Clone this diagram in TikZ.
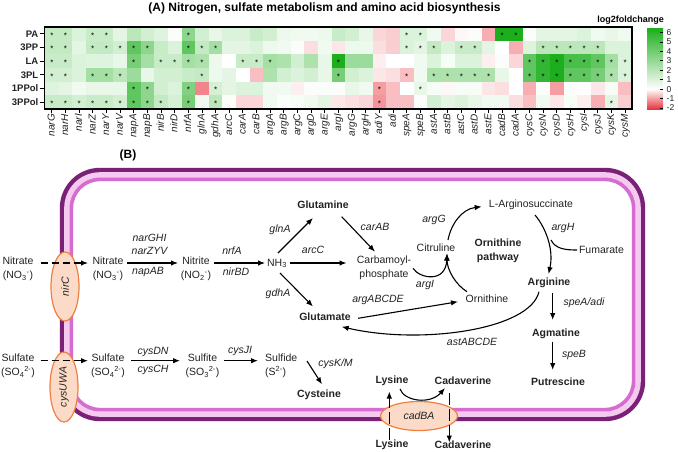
\documentclass[tikz,border=0pt]{standalone}
\usepackage{fontspec}
\setmainfont{Liberation Sans}
\usetikzlibrary{arrows.meta,shapes.geometric,calc}
\definecolor{hgreen}{RGB}{28,174,28}
\definecolor{hred}{RGB}{232,52,62}
\definecolor{tcol}{RGB}{35,35,35}
\definecolor{mdark}{RGB}{122,32,118}
\definecolor{mpink}{RGB}{214,108,208}
\definecolor{mlight}{RGB}{245,202,240}
\definecolor{tfill}{RGB}{251,219,199}
\definecolor{tdraw}{RGB}{239,128,66}
\newcommand\hmrow[2]{%
\foreach \v/\s [count=\c] in {#2} {
  \pgfmathsetmacro\xx{45+(\c-1)*13.65}
  \pgfmathsetmacro\yy{27+(#1-1)*13.667}
  \pgfmathsetmacro\pp{\v<0 ? min(100,-\v*40) : min(100,\v*20)}
  \ifdim\v pt<0pt \def\cc{hred}\else\def\cc{hgreen}\fi
  \fill[\cc!\pp!white] (\xx,\yy) rectangle ++(13.95,13.95);
  \ifnum\s=1 \node[starm] (s#1-\c) at (\xx+6.825,\yy+8.3) {*};\fi
}}
\begin{document}
\begin{tikzpicture}[x=1pt,y=-1pt,
 txt/.style={font=\fontsize{10.5}{14}\selectfont, text=tcol, inner sep=0pt, align=center},
 btxt/.style={txt, font=\fontsize{10.5}{14}\selectfont\bfseries},
 gene/.style={txt, font=\fontsize{10.5}{14}\selectfont\itshape},
 arr/.style={draw=black, line width=1.1pt, -{Latex[length=7pt,width=5.5pt]}},
 darr/.style={arr, dash pattern=on 7pt off 4pt},
 vdarr/.style={arr, dash pattern=on 12pt off 4pt},
 trans/.style={ellipse, fill=tfill, draw=tdraw, line width=1.2pt, inner sep=0pt, font=\fontsize{10.5}{14}\selectfont\itshape, text=tcol},
 starm/.style={font=\fontsize{8}{8}\selectfont, inner sep=0pt, text=black},
 clab/.style={font=\fontsize{10}{12}\selectfont\itshape, text=tcol, inner sep=0pt, text height=7.5pt, text depth=2pt, rotate=90, anchor=east},
 rlab/.style={font=\fontsize{9.5}{12}\selectfont\bfseries, text=tcol, inner sep=0pt, anchor=east},
 ttl/.style={font=\fontsize{12}{14}\selectfont\bfseries, text=black, inner sep=0pt}
]
\useasboundingbox (0,0) rectangle (678,451);
\fill[white] (0,0) rectangle (678,451);
% ---------- (A) heatmap ----------
\node[ttl] (titleA) at (324.5,8) {(A) Nitrogen, sulfate metabolism and amino acid biosynthesis};
\hmrow{1}{1.3/1, 1.3/1, 0.8/0, 1.2/1, 1.2/1, 0.6/0, 1.5/0, 1.0/0, 0.7/0, 0.1/0, 2.5/1, 1.0/0, 0.5/0, 0.8/0, 0.8/0, 1.2/0, 1.0/0, 0.4/0, 0.3/0, 0.3/0, 0.4/0, 1.2/0, 1.0/0, 0.5/0, -0.5/0, -0.6/0, 0.8/1, 0.8/1, 0.3/0, -0.5/0, -0.1/0, 0.1/0, -1.0/0, 6/1, 6/1, 0.1/0, 0.6/0, 0.6/0, 0.6/0, 0.8/0, 0.3/0, 0.5/0, 0.3/0}
\hmrow{2}{1.3/1, 1.3/1, 0.6/0, 1.3/1, 1.3/1, 1.0/1, 3.5/1, 2.5/1, 1.2/0, 0.8/0, 3.5/1, 1.3/1, 2.0/1, 0.6/0, 0.6/0, 0.8/0, 0.4/0, 0.3/0, 0.1/0, -0.4/0, 0.3/0, -0.3/0, 0.4/0, 0.4/0, -0.4/0, -0.6/0, 0.8/1, 0.6/1, 1.3/1, 0.8/0, 1.2/1, 1.2/1, 0.6/0, 0/0, -1.0/0, 0.7/0, 1.5/1, 1.5/1, 1.5/1, 1.5/1, 1.5/1, 0.8/0, 0.8/0}
\hmrow{3}{1.2/1, 1.2/1, 0.8/0, 0.7/0, 0.7/0, 0.5/0, 3.0/1, 2.0/0, 1.2/1, 1.2/1, 2.0/1, 1.8/1, 0.4/0, 0/0, 1.2/1, 1.2/1, 2.0/1, 1.8/0, 1.0/0, 1.8/0, 0.5/0, 5.0/1, 2.2/0, 2.2/0, -0.2/0, 0/0, 0/0, 0.3/0, 0.8/0, 0.2/0, 0.8/0, 0.8/0, -0.2/0, 0.1/0, -0.5/0, 3.5/1, 4.5/1, 5.0/1, 4.0/1, 4.0/1, 3.5/1, 2.0/1, 0.8/1}
\hmrow{4}{1.0/1, 1.0/1, 0.8/0, 2.0/1, 2.0/1, 1.5/1, 2.2/0, 0.5/0, 1.0/0, 1.0/0, 1.2/0, 1.3/1, 0.4/0, 0.6/0, 0/0, -0.8/0, 1.8/0, 1.0/0, 0.8/0, 1.0/0, 0.5/0, 3.0/1, 1.0/0, 0.8/0, -0.3/0, -0.4/0, -0.8/1, 0.3/0, 1.8/1, 1.8/1, 1.8/1, 1.8/1, 1.8/1, 0.5/0, 0/0, 3.5/1, 4.5/1, 5.0/1, 3.5/1, 3.5/1, 3.0/1, 1.8/1, 0.8/1}
\hmrow{5}{0.7/0, 0.6/0, 0.3/0, 0.5/0, 0.5/0, 0.5/0, 3.5/1, 2.5/1, 1.0/0, 0.8/0, 2.8/1, -1.5/0, 0.9/1, 0.6/0, 0.8/0, 0.8/0, 0.3/0, 0.3/0, -0.2/0, 0.1/0, 0.1/0, 0.1/0, 0.5/0, 0.3/0, -1.2/1, -0.8/0, 0/0, 0.5/1, 0.2/0, -0.1/0, 0.2/0, 0.2/0, -0.3/0, -0.4/0, 0/0, -1.0/0, 0.1/0, -1.2/0, 0.1/0, 0/0, -0.3/0, 0.2/0, -0.8/0}
\hmrow{6}{1.2/1, 1.2/1, 1.0/1, 1.2/1, 1.2/1, 1.0/1, 3.5/1, 2.5/1, 1.3/1, 0.9/0, 3.0/1, 0.3/0, 1.5/1, 0.1/0, -0.5/0, -0.5/0, 0.3/0, 0.1/0, 0.2/0, 0.3/0, 0.6/0, -0.3/0, -0.4/0, -0.5/0, -1.3/1, -0.8/0, -0.8/0, 0.1/0, 1.0/0, 0.6/0, 0.8/0, 0.5/0, 0.3/0, 0.3/0, -0.4/0, -0.8/0, 0.3/0, -0.3/0, 0.2/0, -0.2/0, -1.0/0, 0.6/1, -0.6/0}
\draw[line width=1.6pt] (44.5,27) rectangle (632,109);
\foreach \n [count=\r] in {PA,3PP,LA,3PL,1PPol,3PPol} {
  \node[rlab] (rl\r) at (38.5,{27+(\r-0.5)*13.667}) {\n};
  \draw[line width=0.9pt] (39.5,{27+(\r-0.5)*13.667}) -- (44,{27+(\r-0.5)*13.667});
}
\foreach \n [count=\c] in {narG,narH,narI,narZ,narY,narV,napA,napB,nirB,nirD,nrfA,glnA,gdhA,arcC,carA,carB,argA,argB,argC,argD,argE,argI,argG,argH,adiY,adi,speA,speB,astA,astB,astC,astD,astE,cadB,cadA,cysC,cysN,cysD,cysH,cysI,cysJ,cysK,cysM} {
  \draw[line width=0.9pt] ({45+(\c-0.5)*13.65},109.5) -- ({45+(\c-0.5)*13.65},112.5);
  \node[clab] (cl\c) at ({45+(\c-0.5)*13.65},114) {\n};
}
% colour bar
\node[font=\fontsize{9}{11}\selectfont\bfseries, inner sep=0pt] (cbt) at (630.5,20) {log2foldchange};
\shade[top color=hgreen, bottom color=white] (647,28) rectangle (663,89.2);
\shade[top color=white, bottom color=hred] (647,89) rectangle (663,109);
\foreach \v [count=\k] in {6,5,4,3,2,1,0,-1,-2} {
  \draw[line width=0.7pt] (659.5,{89.1-9.44*\v}) -- (663,{89.1-9.44*\v});
  \node[font=\fontsize{8.5}{10}\selectfont, inner sep=0pt, anchor=west, text=tcol] (cbl\k) at (666.5,{89.1-9.44*\v}) {\v};
}
% ---------- (B) pathway ----------
\node[ttl] (titleB) at (128,155) {(B)};
\draw[mdark, line width=5pt, rounded corners=37.7pt] (62.3,170.3) rectangle (642.7,418.7);
\draw[mlight, line width=6pt, rounded corners=32.8pt] (67.2,175.2) rectangle (637.8,413.8);
\draw[mpink, line width=3.6pt, rounded corners=28.6pt] (71.4,179.4) rectangle (633.6,409.6);
% transporters
\node[trans, minimum width=69pt, minimum height=28pt, rotate=90] (nirc) at (65,286.5) {nirC};
\node[trans, minimum width=70pt, minimum height=28pt, rotate=90] (cysu) at (64,387) {cysUWA};
\node[trans, minimum width=77pt, minimum height=29pt] (cadba) at (419,416) {cadBA};
% metabolites
\node[txt] (nitout) at (18,269) {Nitrate\\(NO\textsubscript{3}\textsuperscript{-})};
\node[txt] (nitin) at (108,269) {Nitrate\\(NO\textsubscript{3}\textsuperscript{-})};
\node[txt] (nitrite) at (196,269) {Nitrite\\(NO\textsubscript{2}\textsuperscript{-})};
\node[txt] (nh3) at (277,263.5) {NH\textsubscript{3}};
\node[btxt] (gln) at (323,205) {Glutamine};
\node[btxt] (glu) at (325,317) {Glutamate};
\node[txt] (carb) at (384,268) {Carbamoyl-\\phosphate};
\node[txt] (citr) at (436,248) {Citruline};
\node[btxt] (orpath) at (498,251) {Ornithine\\pathway};
\node[txt] (larg) at (531,204.5) {L-Arginosuccinate};
\node[txt] (fum) at (601.5,250) {Fumarate};
\node[btxt] (argn) at (549,283) {Arginine};
\node[txt] (orn) at (487,299) {Ornithine};
\node[btxt] (agm) at (556,333.5) {Agmatine};
\node[btxt] (put) at (558,382) {Putrescine};
\node[txt] (sulout) at (18,366) {Sulfate\\(SO\textsubscript{4}\textsuperscript{2-})};
\node[txt] (sulin) at (108,366) {Sulfate\\(SO\textsubscript{4}\textsuperscript{2-})};
\node[txt] (sulfite) at (202.5,366) {Sulfite\\(SO\textsubscript{3}\textsuperscript{2-})};
\node[txt, align=left, anchor=west] (sulfide) at (265,366) {Sulfide\\(S\textsuperscript{2-})};
\node[btxt] (cys) at (319,394.5) {Cysteine};
\node[btxt] (lysin) at (392,381) {Lysine};
\node[btxt] (cadin) at (463,381) {Cadaverine};
\node[btxt] (lysout) at (392,444.5) {Lysine};
\node[btxt] (cadout) at (463,444.5) {Cadaverine};
% gene labels
\node[gene] (g1) at (149.5,238) {narGHI};
\node[gene] (g2) at (149.5,250.5) {narZYV};
\node[gene] (g3) at (148,272) {napAB};
\node[gene] (g4) at (232,251) {nrfA};
\node[gene] (g5) at (236,272) {nirBD};
\node[gene] (g6) at (313,250) {arcC};
\node[gene] (g7) at (280,230) {glnA};
\node[gene] (g8) at (278,294) {gdhA};
\node[gene] (g9) at (375,227) {carAB};
\node[gene] (g10) at (434,220) {argG};
\node[gene] (g11) at (563,228) {argH};
\node[gene] (g12) at (425,285) {argI};
\node[gene] (g13) at (378,300) {argABCDE};
\node[gene] (g14) at (584,303) {speA/adi};
\node[gene] (g15) at (472,342) {astABCDE};
\node[gene] (g16) at (574,355) {speB};
\node[gene] (g17) at (153,352) {cysDN};
\node[gene] (g18) at (153,370) {cysCH};
\node[gene] (g19) at (240,351) {cysJI};
\node[gene] (g20) at (335.5,363.5) {cysK/M};
% nitrogen arrows
\draw[darr] ($(nitout)+(22.7,-6)$) -- ($(nitin)+(-20,-6)$);
\draw[arr] ($(nitin)+(19,-6)$) -- ($(nitrite)+(-18,-6)$);
\draw[arr] ($(nitrite)+(18,-6)$) -- ($(nh3)+(-12,-0.5)$);
\draw[arr] ($(nh3)+(1,-10.5)$) -- ($(gln)+(-10,13)$);
\draw[arr] ($(nh3)+(3,9.5)$) -- ($(glu)+(-12,-10.5)$);
\draw[arr] ($(nh3)+(13,-0.5)$) -- ($(carb)+(-37.5,-5)$);
\draw[arr] ($(gln)+(18.7,11.7)$) -- ($(carb)+(-9,-16.3)$);
\draw[arr] ($(carb)+(29,0.3)$) .. controls ($(carb)+(36,11)$) and ($(citr)+(10,35)$) .. ($(citr)+(11,5.5)$);
\draw[arr] ($(orn)+(-20,-7.3)$) .. controls ($(orn)+(-31,-14)$) and ($(citr)+(11,22)$) .. ($(citr)+(11,5.5)$);
\draw[arr] ($(citr)+(12,-8)$) .. controls ($(citr)+(15,-24)$) and ($(larg)+(-69,4.5)$) .. ($(larg)+(-49.3,2.2)$);
\draw[arr] ($(larg)+(4,10.5)$) .. controls ($(larg)+(15,23.5)$) and ($(argn)+(5,-33)$) .. ($(argn)+(-0.5,-9)$);
\draw[line width=1.1pt] ($(fum)+(-50.5,-10)$) .. controls ($(fum)+(-46,-1)$) and ($(fum)+(-36,0)$) .. ($(fum)+(-24.5,0)$);
\draw[arr] ($(glu)+(33,1.3)$) -- ($(orn)+(-29,2.7)$);
\draw[arr] ($(argn)+(-10,8.7)$) .. controls ($(argn)+(-19,47)$) and ($(glu)+(95,28)$) .. ($(glu)+(16.7,9.7)$);
\draw[arr] ($(argn)+(3.7,10)$) -- ($(agm)+(-3.3,-13.5)$);
\draw[arr] ($(agm)+(-3.3,8.2)$) -- ($(put)+(-5.3,-12)$);
% sulfur arrows
\draw[darr] ($(sulout)+(22.7,-5.3)$) -- ($(sulin)+(-20,-5.3)$);
\draw[arr] ($(sulin)+(23,-5.3)$) -- ($(sulfite)+(-22.5,-5.3)$);
\draw[arr] ($(sulfite)+(21.5,-5.3)$) -- ($(sulfide.west)+(-7,-5.3)$);
\draw[arr] ($(sulfide.west)+(42,-5)$) -- ($(cys)+(3,-10.2)$);
% lysine / cadaverine
\draw[vdarr] ($(lysout)+(-2.7,-5)$) -- ($(lysin)+(-2.7,10.5)$);
\draw[vdarr] ($(cadin)+(-13.7,12)$) -- ($(cadout)+(-13.7,-2)$);
\draw[arr] ($(lysin)+(8,8)$) .. controls ($(lysin)+(12,20)$) and ($(cadin)+(-33,24)$) .. ($(cadin)+(-18,7)$);
\end{tikzpicture}
\end{document}
